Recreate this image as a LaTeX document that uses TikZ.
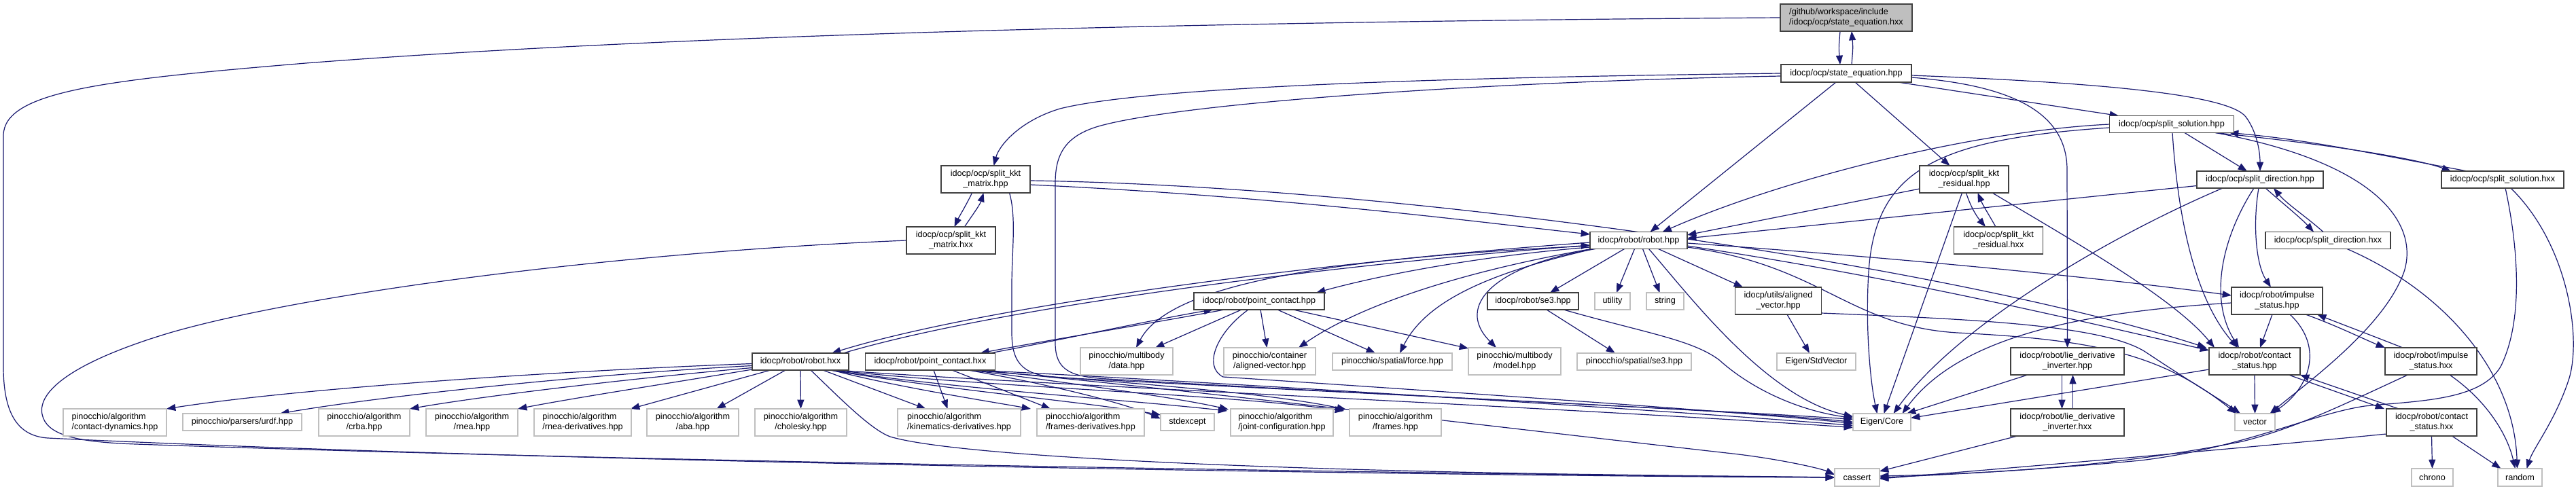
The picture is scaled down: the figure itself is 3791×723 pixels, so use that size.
\documentclass[tikz,border=0pt]{standalone}
\usepackage{fontspec}
\setmainfont{Liberation Sans}
\usetikzlibrary{arrows.meta,calc}
\definecolor{edgec}{HTML}{191970}
\definecolor{extc}{HTML}{BFBFBF}
\definecolor{incc}{HTML}{404040}
\newcommand\twol[2]{\setbox0=\hbox{#1}\setbox2=\hbox{#2}\ifdim\wd0<\wd2 \makebox[\wd2][l]{#1}\else #1\fi\\#2}
\pgfdeclarelayer{bg}
\pgfdeclarelayer{edges}
\pgfsetlayers{bg,edges,main}
\begin{document}
\begin{tikzpicture}[x=0.75pt,y=-0.75pt,
  nbase/.style={inner sep=0pt,outer sep=0pt,align=center,font=\fontsize{9.5}{11}\selectfont,text=black,line width=1pt},
  inc/.style={nbase,draw=incc,fill=white},
  ext/.style={nbase,draw=extc,fill=white},
  cur/.style={nbase,draw=incc,fill=extc},
  sz/.style 2 args={minimum width=#1*0.75pt,minimum height=#2*0.75pt},
  edg/.style={draw=edgec,line width=0.9pt,-{Triangle[length=10pt,width=7.5pt]}}]
\begin{pgfonlayer}{bg}
\fill[white] (0,0) rectangle (3791,723);
\end{pgfonlayer}
\useasboundingbox (0,0) rectangle (3791,723);
% ---------- nodes ----------
\node[cur,sz={194}{40}] (hxx0) at (2717,26) {\twol{/github/workspace/include}{/idocp/ocp/state\_equation.hxx}};
\node[inc,sz={192}{26}] (seh) at (2717,108) {idocp/ocp/state\_equation.hpp};
\node[inc,sz={183}{25}] (ssh) at (3196,183) {idocp/ocp/split\_solution.hpp};
\node[inc,sz={131}{40}] (kmh) at (1450.5,264) {\twol{idocp/ocp/split\_kkt}{\_matrix.hpp}};
\node[inc,sz={131}{40}] (krh) at (2890.5,264) {\twol{idocp/ocp/split\_kkt}{\_residual.hpp}};
\node[inc,sz={186}{25}] (sdh) at (3326,264.5) {idocp/ocp/split\_direction.hpp};
\node[inc,sz={180}{25}] (ssx) at (3683,264.5) {idocp/ocp/split\_solution.hxx};
\node[inc,sz={131}{40}] (kmx) at (1399.5,354) {\twol{idocp/ocp/split\_kkt}{\_matrix.hxx}};
\node[inc,sz={131}{40}] (krx) at (2941,354) {\twol{idocp/ocp/split\_kkt}{\_residual.hxx}};
\node[inc,sz={184}{25}] (sdx) at (3426,354) {idocp/ocp/split\_direction.hxx};
\node[inc,sz={143}{25}] (rh) at (2411.5,354) {idocp/robot/robot.hpp};
\node[inc,sz={192}{25}] (pch) at (1853,443.5) {idocp/robot/point\_contact.hpp};
\node[inc,sz={134}{25}] (se3) at (2256,443.5) {idocp/robot/se3.hpp};
\node[ext,sz={52}{25}] (util) at (2373,443.5) {utility};
\node[ext,sz={55}{25}] (str) at (2450.5,443.5) {string};
\node[inc,sz={127}{40}] (av) at (2617,443) {\twol{idocp/utils/aligned}{\_vector.hpp}};
\node[inc,sz={134}{40}] (ish) at (3351,443) {\twol{idocp/robot/impulse}{\_status.hpp}};
\node[inc,sz={142}{25}] (rx) at (1178,532.5) {idocp/robot/robot.hxx};
\node[inc,sz={191}{25}] (pcx) at (1369,532.5) {idocp/robot/point\_contact.hxx};
\node[ext,sz={136}{40}] (mdata) at (1658,532) {\twol{pinocchio/multibody}{/data.hpp}};
\node[ext,sz={135}{40}] (cav) at (1868.5,532) {\twol{pinocchio/container}{/aligned-vector.hpp}};
\node[ext,sz={176}{25}] (force) at (2049,532.5) {pinocchio/spatial/force.hpp};
\node[ext,sz={136}{40}] (model) at (2229,532) {\twol{pinocchio/multibody}{/model.hpp}};
\node[ext,sz={168}{25}] (sse3) at (2405,532.5) {pinocchio/spatial/se3.hpp};
\node[ext,sz={116}{25}] (esv) at (2673,532.5) {Eigen/StdVector};
\node[inc,sz={167}{40}] (ldh) at (3042.5,532) {\twol{idocp/robot/lie\_derivative}{\_inverter.hpp}};
\node[inc,sz={134}{40}] (csh) at (3318,532) {\twol{idocp/robot/contact}{\_status.hpp}};
\node[inc,sz={135}{40}] (isx) at (3577.5,532) {\twol{idocp/robot/impulse}{\_status.hxx}};
\node[ext,sz={152}{40}] (cd) at (169,622) {\twol{pinocchio/algorithm}{/contact-dynamics.hpp}};
\node[ext,sz={175}{25}] (urdf) at (356.5,621.5) {pinocchio/parsers/urdf.hpp};
\node[ext,sz={134}{40}] (crba) at (536,622) {\twol{pinocchio/algorithm}{/crba.hpp}};
\node[ext,sz={135}{40}] (rnea) at (694.5,622) {\twol{pinocchio/algorithm}{/rnea.hpp}};
\node[ext,sz={143}{40}] (rnead) at (857.5,622) {\twol{pinocchio/algorithm}{/rnea-derivatives.hpp}};
\node[ext,sz={135}{40}] (aba) at (1019.5,622) {\twol{pinocchio/algorithm}{/aba.hpp}};
\node[ext,sz={135}{40}] (chol) at (1178.5,622) {\twol{pinocchio/algorithm}{/cholesky.hpp}};
\node[ext,sz={181}{40}] (kind) at (1411.5,622) {\twol{pinocchio/algorithm}{/kinematics-derivatives.hpp}};
\node[ext,sz={158}{40}] (frd) at (1605,622) {\twol{pinocchio/algorithm}{/frames-derivatives.hpp}};
\node[ext,sz={79}{25}] (stdx) at (1747.5,621.5) {stdexcept};
\node[ext,sz={151}{40}] (jc) at (1886.5,622) {\twol{pinocchio/algorithm}{/joint-configuration.hpp}};
\node[ext,sz={135}{40}] (frames) at (2053.5,622) {\twol{pinocchio/algorithm}{/frames.hpp}};
\node[ext,sz={85}{25}] (ec) at (2769.5,621.5) {Eigen/Core};
\node[inc,sz={167}{40}] (ldx) at (3042.5,622) {\twol{idocp/robot/lie\_derivative}{\_inverter.hxx}};
\node[ext,sz={59}{25}] (vec) at (3318.5,621.5) {vector};
\node[inc,sz={133}{40}] (csx) at (3578.5,622) {\twol{idocp/robot/contact}{\_status.hxx}};
\node[ext,sz={66}{26}] (cas) at (2733,703) {cassert};
\node[ext,sz={61}{26}] (chrono) at (3579.5,703) {chrono};
\node[ext,sz={65}{26}] (random) at (3708.5,703) {random};
% ---------- edges ----------
\begin{pgfonlayer}{edges}
% state_equation.hxx
\draw[edg] ($(hxx0.south)+(-9,0)$) .. controls (2706,70) .. ($(seh.north)+(-9,0)$);
\draw[edg] ($(seh.north)+(8,0)$) .. controls (2727,70) .. ($(hxx0.south)+(8,0)$);
\draw[edg] (hxx0.west) .. controls (1600,33) and (900,58) .. (450,93) .. controls (150,118) and (5,135) .. (5,200) -- (5,540) .. controls (5,615) and (30,642) .. (70,645) .. controls (900,685) and (2300,702) .. (cas.west);
% split_kkt_matrix.hxx -> cassert
\draw[edg] (kmx.west) .. controls (900,372) and (450,432) .. (250,490) .. controls (110,532) and (55,575) .. (62,610) .. controls (68,640) and (110,651) .. (200,654) .. controls (1000,682) and (2300,700) .. (cas.west);
% state_equation.hpp
\draw[edg] (seh.west) .. controls (2200,113) and (1700,125) .. (1560,160) .. controls (1500,178) and (1470,215) .. ($(kmh.north)+(12,0)$);
\draw[edg] ($(seh.west)+(0,4)$) .. controls (2200,120) and (1750,150) .. (1620,185) .. controls (1565,200) and (1553,230) .. (1553,270) -- (1553,505) .. controls (1553,545) and (1575,555) .. (1630,558) .. controls (2100,585) and (2550,605) .. ($(ec.west)+(0,-4)$);
\draw[edg] ($(seh.south)+(-15,0)$) -- ($(rh.north)+(17,0)$);
\draw[edg] ($(seh.south)+(13,0)$) -- ($(krh.north)+(-21,0)$);
\draw[edg] ($(seh.south)+(76,0)$) -- ($(ssh.north)+(-78,0)$);
\draw[edg] ($(seh.east)+(0,3)$) .. controls (3100,122) and (3280,140) .. (3305,172) .. controls (3322,195) and (3326,225) .. (sdh.north);
\draw[edg] ($(seh.east)+(0,6)$) .. controls (2950,125) and (3042,160) .. (3042,250) -- (ldh.north);
% split_kkt_matrix.hpp
\draw[edg] ($(kmh.south)+(-20,0)$) .. controls (1422,302) and (1412,318) .. ($(kmx.north)+(5,0)$);
\draw[edg] ($(kmx.north)+(20,0)$) .. controls (1430,318) and (1442,302) .. ($(kmh.south)+(-3,0)$);
\draw[edg] ($(kmh.east)+(0,8)$) .. controls (1900,290) and (2200,330) .. ($(rh.west)+(0,-9)$);
\draw[edg] ($(kmh.east)+(0,2)$) .. controls (2100,275) and (2900,400) .. ($(csh.north west)+(-4,0)$);
\draw[edg] ($(kmh.south)+(35,0)$) .. controls (1496,320) and (1489,370) .. (1489,420) -- (1489,490) .. controls (1489,540) and (1510,553) .. (1560,556) .. controls (2100,585) and (2550,603) .. (ec.west);
% split_kkt_residual.hpp
\draw[edg] ($(krh.south)+(3,0)$) .. controls (2900,305) and (2910,320) .. ($(krx.north)+(-19,0)$);
\draw[edg] ($(krx.north)+(-4,0)$) .. controls (2928,318) and (2918,302) .. ($(krh.south)+(20,0)$);
\draw[edg] ($(krh.west)+(0,14)$) -- ($(rh.east)+(0,-8)$);
\draw[edg] ($(krh.south)+(-3,0)$) -- ($(ec.north)+(3,0)$);
\draw[edg] ($(krh.south east)+(-24,0)$) .. controls (3060,360) and (3200,440) .. ($(csh.north west)+(8,0)$);
% split_solution.hpp
\draw[edg] ($(ssh.south)+(64,0)$) .. controls (3450,215) and (3560,235) .. ($(ssx.north)+(-76,0)$);
\draw[edg] ($(ssx.north)+(-52,0)$) .. controls (3500,228) and (3400,206) .. ($(ssh.south)+(85,0)$);
\draw[edg] ($(ssh.south)+(19,0)$) -- ($(sdh.north)+(-19,0)$);
\draw[edg] (ssh.west) .. controls (2900,193) and (2620,265) .. ($(rh.north)+(35,0)$);
\draw[edg] ($(ssh.west)+(0,5)$) .. controls (2850,205) and (2760,250) .. (2750,400) .. controls (2745,480) and (2752,560) .. ($(ec.north)+(-7,0)$);
\draw[edg] ($(ssh.south)+(1,0)$) .. controls (3205,320) and (3230,440) .. ($(csh.north)+(-25,0)$);
\draw[edg] ($(ssh.south east)+(-27,0)$) .. controls (3500,240) and (3560,330) .. (3538,400) .. controls (3510,480) and (3400,560) .. ($(vec.north)+(22,0)$);
% split_solution.hxx
\draw[edg] ($(ssx.south)+(12,0)$) .. controls (3780,360) and (3800,500) .. (3780,560) .. controls (3760,620) and (3728,660) .. ($(random.north)+(10,0)$);
\draw[edg] ($(ssx.south)+(4,0)$) .. controls (3705,360) and (3715,470) .. (3680,540) .. controls (3650,590) and (3560,590) .. (3480,598) .. controls (3400,610) and (3300,660) .. (3150,678) .. controls (3000,692) and (2850,700) .. (cas.east);
% split_direction.hpp / hxx
\draw[edg] ($(sdh.south)+(8,0)$) .. controls (3360,300) and (3385,320) .. ($(sdx.north)+(-21,0)$);
\draw[edg] ($(sdx.north)+(-7,0)$) .. controls (3395,320) and (3365,300) .. ($(sdh.south)+(20,0)$);
\draw[edg] ($(sdh.west)+(0,9)$) -- ($(rh.east)+(0,-3)$);
\draw[edg] ($(sdh.south west)+(38,0)$) .. controls (3100,350) and (2880,480) .. ($(ec.north)+(17,0)$);
\draw[edg] ($(sdh.south)+(-9,0)$) .. controls (3270,350) and (3250,440) .. ($(csh.north)+(-23,0)$);
\draw[edg] ($(sdh.south)+(-2,0)$) .. controls (3315,330) and (3320,390) .. ($(ish.north)+(-9,0)$);
\draw[edg] ($(sdx.south)+(28,0)$) .. controls (3600,430) and (3700,550) .. ($(random.north)+(-4,0)$);
% robot.hpp
\draw[edg] ($(rh.west)+(0,3)$) .. controls (1950,385) and (1450,450) .. ($(rx.north east)+(-25,0)$);
\draw[edg] ($(rx.north east)+(-8,0)$) .. controls (1470,452) and (1960,390) .. ($(rh.west)+(0,7)$);
\draw[edg] ($(rh.west)+(0,10)$) .. controls (2200,375) and (2050,400) .. ($(pch.north east)+(-12,0)$);
\draw[edg] ($(rh.west)+(0,8)$) .. controls (1950,380) and (1720,420) .. ($(mdata.north)+(14,0)$);
\draw[edg] ($(rh.south west)+(2,0)$) .. controls (2150,400) and (2000,450) .. ($(cav.north east)+(-25,0)$);
\draw[edg] ($(rh.south west)+(5,0)$) .. controls (2200,400) and (2100,440) .. ($(force.north)+(11,0)$);
\draw[edg] ($(rh.south west)+(8,0)$) .. controls (2200,390) and (2140,450) .. ($(model.north)+(-27,0)$);
\draw[edg] ($(rh.south)+(-21,0)$) -- ($(se3.north)+(25,0)$);
\draw[edg] ($(rh.south)+(-6,0)$) -- ($(util.north)+(6,0)$);
\draw[edg] ($(rh.south)+(6,0)$) -- ($(str.north)+(-8,0)$);
\draw[edg] ($(rh.south)+(29,0)$) -- ($(av.north)+(-52,0)$);
\draw[edg] ($(rh.south)+(15,0)$) .. controls (2490,440) and (2600,585) .. ($(ec.west)+(0,-8)$);
\draw[edg] ($(rh.east)+(0,4)$) .. controls (2800,380) and (3100,410) .. ($(ish.west)+(0,-8)$);
\draw[edg] ($(rh.east)+(0,8)$) .. controls (2800,410) and (3050,470) .. ($(csh.north west)+(0,4)$);
\draw[edg] ($(rh.east)+(0,10)$) .. controls (2680,390) and (2720,480) .. (2880,490) .. controls (3080,500) and (3180,520) .. ($(vec.north west)+(2,0)$);
% aligned_vector
\draw[edg] ($(av.east)+(0,18)$) .. controls (2900,470) and (3100,478) .. (3160,520) .. controls (3220,560) and (3270,590) .. ($(vec.north west)+(8,0)$);
\draw[edg] ($(av.south)+(13,0)$) -- ($(esv.north)+(-10,0)$);
% se3
\draw[edg] ($(se3.south)+(20,0)$) -- ($(sse3.north)+(-28,0)$);
\draw[edg] ($(se3.south east)+(-22,0)$) .. controls (2420,490) and (2490,500) .. (2530,530) .. controls (2580,575) and (2650,605) .. ($(ec.west)+(0,-6)$);
% point_contact.hpp
\draw[edg] ($(pch.south west)+(45,0)$) .. controls (1700,475) and (1520,505) .. ($(pcx.north east)+(-22,0)$);
\draw[edg] ($(pcx.north east)+(-8,0)$) .. controls (1540,505) and (1700,470) .. ($(pch.south west)+(28,0)$);
\draw[edg] ($(pch.south)+(-26,0)$) -- ($(mdata.north)+(42,0)$);
\draw[edg] ($(pch.south)+(2,0)$) -- ($(cav.north)+(-4,0)$);
\draw[edg] ($(pch.south)+(27,0)$) -- ($(force.north)+(-25,0)$);
\draw[edg] ($(pch.south east)+(-46,0)$) -- ($(model.north west)+(0,1)$);
\draw[edg] ($(pch.south)+(-16,0)$) .. controls (1790,490) and (1770,540) .. (1800,555) .. controls (2100,575) and (2550,605) .. ($(ec.west)+(0,2)$);
% point_contact.hxx
\draw[edg] ($(pcx.south)+(5,0)$) -- ($(kind.north)+(-17,0)$);
\draw[edg] ($(pcx.south)+(32,0)$) -- ($(frd.north)+(-59,0)$);
\draw[edg] ($(pcx.south east)+(-40,0)$) .. controls (1540,565) and (1650,592) .. ($(stdx.west)+(0,-5)$);
\draw[edg] ($(pcx.south east)+(-36,0)$) .. controls (1560,562) and (1730,585) .. ($(jc.north west)+(-3,1)$);
\draw[edg] ($(pcx.south east)+(-33,0)$) .. controls (1600,560) and (1850,575) .. ($(frames.north west)+(-5,1)$);
\draw[edg] ($(pcx.south east)+(-30,0)$) .. controls (1700,558) and (2400,600) .. ($(ec.west)+(0,5)$);
\draw[edg] ($(pcx.south east)+(-28,0)$) .. controls (1700,568) and (2300,640) .. (2550,668) .. controls (2620,676) and (2680,690) .. ($(cas.west)+(0,-4)$);
% robot.hxx
\draw[edg] ($(rx.west)+(0,3)$) .. controls (850,545) and (450,570) .. (cd.north east);
\draw[edg] ($(rx.west)+(0,6)$) .. controls (850,552) and (550,585) .. ($(urdf.north east)+(-32,0)$);
\draw[edg] ($(rx.west)+(0,9)$) .. controls (900,560) and (700,585) .. (crba.north east);
\draw[edg] ($(rx.south west)+(0,-1)$) .. controls (1000,562) and (850,585) .. (rnea.north east);
\draw[edg] ($(rx.south west)+(27,0)$) -- ($(rnead.north east)+(-1,0)$);
\draw[edg] ($(rx.south)+(-22,0)$) -- ($(aba.north)+(35,0)$);
\draw[edg] (rx.south) -- (chol.north);
\draw[edg] ($(rx.south)+(15,0)$) .. controls (1230,580) and (1280,632) .. (1310,643) .. controls (1400,670) and (1800,690) .. (2300,698) .. controls (2500,701) and (2650,702) .. (cas.west);
\draw[edg] ($(rx.south)+(33,0)$) -- ($(kind.north)+(-49,0)$);
\draw[edg] ($(rx.south)+(46,0)$) .. controls (1320,570) and (1450,590) .. ($(frd.north west)+(-9,0)$);
\draw[edg] ($(rx.south east)+(-28,0)$) .. controls (1400,575) and (1600,592) .. ($(stdx.north west)+(0,2)$);
\draw[edg] ($(rx.south east)+(-25,0)$) .. controls (1400,572) and (1650,588) .. ($(jc.north west)+(-5,3)$);
\draw[edg] ($(rx.south east)+(-22,0)$) .. controls (1450,570) and (1800,580) .. ($(frames.north west)+(-8,3)$);
\draw[edg] ($(rx.south east)+(-19,0)$) .. controls (1500,565) and (2300,600) .. ($(ec.west)+(0,8)$);
% impulse_status
\draw[edg] ($(ish.south)+(42,0)$) .. controls (3440,480) and (3480,500) .. (isx.north west);
\draw[edg] ($(isx.north west)+(26,0)$) .. controls (3480,490) and (3440,475) .. ($(ish.south east)+(-8,0)$);
\draw[edg] ($(ish.south)+(-7,0)$) -- ($(csh.north)+(8,0)$);
\draw[edg] ($(ish.south)+(19,0)$) .. controls (3420,510) and (3400,570) .. ($(vec.north east)+(-5,0)$);
\draw[edg] ($(ish.west)+(0,3)$) .. controls (3050,460) and (2880,500) .. ($(ec.north)+(30,0)$);
\draw[edg] ($(isx.south east)+(-40,0)$) .. controls (3660,590) and (3690,640) .. ($(random.north)+(-7,0)$);
\draw[edg] ($(isx.south)+(-34,0)$) .. controls (3450,595) and (3380,630) .. (3300,650) .. controls (3100,690) and (2900,698) .. ($(cas.east)+(0,-2)$);
% contact_status
\draw[edg] ($(csh.south)+(50,0)$) -- ($(csx.north west)+(-3,0)$);
\draw[edg] ($(csx.north west)+(18,0)$) -- (csh.south east);
\draw[edg] (csh.south) -- (vec.north);
\draw[edg] ($(csh.west)+(0,12)$) -- ($(ec.east)+(0,-6)$);
\draw[edg] (csx.south) -- (chrono.north);
\draw[edg] ($(csx.south)+(30,0)$) -- ($(random.north)+(-28,0)$);
\draw[edg] ($(csx.west)+(0,17)$) .. controls (3300,660) and (2950,690) .. ($(cas.east)+(0,2)$);
% lie_derivative_inverter
\draw[edg] ($(ldh.south)+(-8,0)$) -- ($(ldx.north)+(-8,0)$);
\draw[edg] ($(ldx.north)+(8,0)$) -- ($(ldh.south)+(8,0)$);
\draw[edg] ($(ldh.south west)+(25,0)$) -- ($(ec.north east)+(-6,0)$);
\draw[edg] ($(ldx.south west)+(10,0)$) -- ($(cas.north east)+(0,4)$);
\end{pgfonlayer}
\end{tikzpicture}
\end{document}
